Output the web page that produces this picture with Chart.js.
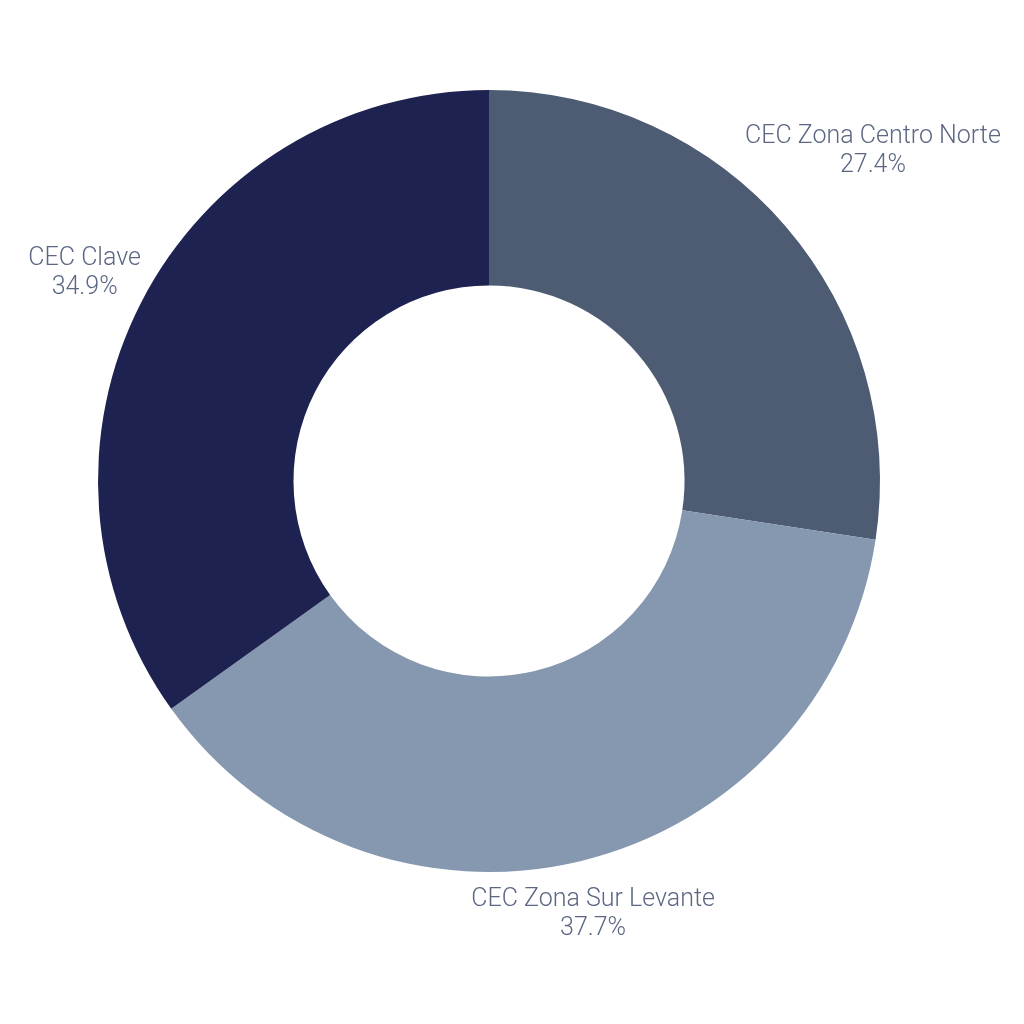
<!DOCTYPE html>
<html>
<head>
<meta charset="utf-8">
<script src="https://cdn.jsdelivr.net/npm/chart.js@4/dist/chart.umd.min.js"></script>
<style>
  html, body { margin: 0; padding: 0; background: #fff; }
</style>
</head>
<body>
<canvas id="grafico-cec" width="1024" height="1024"></canvas>
<script>
// Dados do gráfico
let labelsCec = ["CEC Zona Centro Norte", "CEC Zona Sur Levante", "CEC Clave"];
let valoresCec = [27.4, 37.7, 34.9];
let coresCec = ["#4d5b73", "#8598b0", "#1e2250"];

// Plugin para escrever rótulos fora das fatias
const rotulosFora = {
    id: "rotulosFora",
    afterDatasetsDraw(chart) {
        const ctx = chart.ctx;
        const meta = chart.getDatasetMeta(0);
        ctx.save();
        ctx.font = "300 25px Roboto";
        ctx.fillStyle = "#5b6783";
        ctx.textAlign = "center";
        ctx.textBaseline = "middle";
        meta.data.forEach((arc, i) => {
            const linhas = [labelsCec[i], valoresCec[i].toFixed(1) + "%"];
            const largura = Math.max(...linhas.map(l => ctx.measureText(l).width));
            const altura = 50;
            const meio = (arc.startAngle + arc.endAngle) / 2;
            const cos = Math.cos(meio), sin = Math.sin(meio);
            const dist = arc.outerRadius + 2 + Math.abs(cos) * largura / 2 + Math.abs(sin) * altura / 2;
            const x = arc.x + cos * dist;
            const y = arc.y + sin * dist;
            ctx.fillText(linhas[0], x, y - 14.5);
            ctx.fillText(linhas[1], x, y + 14.5);
        });
        ctx.restore();
    }
};

const configCec = {
    type: "doughnut",
    data: {
        labels: labelsCec,
        datasets: [{
            data: valoresCec,
            backgroundColor: coresCec,
            borderWidth: 0
        }]
    },
    options: {
        responsive: false,
        animation: false,
        cutout: "50%",
        layout: {
            padding: { left: 98, right: 144, top: 90, bottom: 152 }
        },
        plugins: {
            legend: { display: false },
            tooltip: { enabled: false }
        }
    },
    plugins: [rotulosFora]
};

let myChartCec = new Chart(document.getElementById("grafico-cec"), configCec);
</script>
</body>
</html>
